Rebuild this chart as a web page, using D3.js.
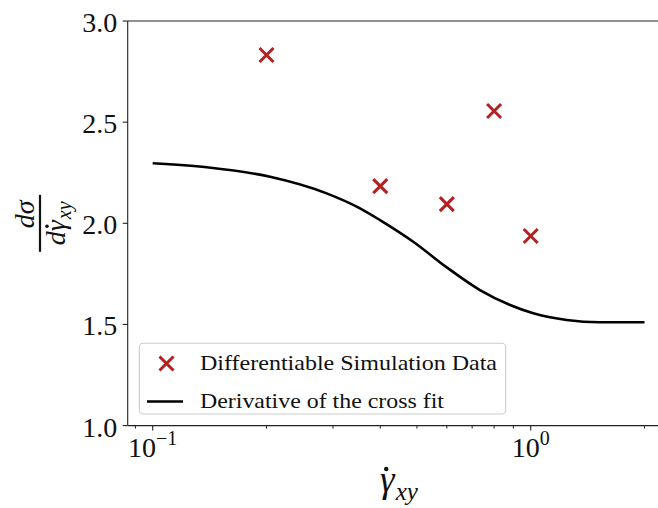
<!DOCTYPE html>
<html><head><meta charset="utf-8">
<script src="https://cdn.jsdelivr.net/npm/d3@7"></script>
<style>body{margin:0;background:#fff}svg{display:block}</style>
</head><body><svg id="c" width="658" height="508"></svg>
<script>
// ---- data ----
const simX = [0.2, 0.4, 0.6, 0.8, 1.0];
const simY = [2.832, 2.184, 2.095, 2.555, 1.937];
const fitX = [0.1, 0.139, 0.2044, 0.2885, 0.3535, 0.3993, 0.489, 0.5997, 0.734, 0.882, 1.016, 1.245, 1.525, 2.0];
const fitY = [2.297, 2.277, 2.230, 2.148, 2.074, 2.016, 1.909, 1.782, 1.670, 1.596, 1.555, 1.522, 1.511, 1.511];
const yTicks = [1.0, 1.5, 2.0, 2.5, 3.0];
const xMajor = [0.1, 1];
const xMajorExp = ["\u22121", "0"];
const xMinor = [0.09, 0.2, 0.3, 0.4, 0.5, 0.6, 0.7, 0.8, 0.9, 2];
const legendLabels = ["Differentiable Simulation Data", "Derivative of the cross fit"];

const FONT = "'Liberation Serif', 'DejaVu Serif', serif";
const RED = "#b22222";
const svg = d3.select("#c");
svg.append("rect").attr("width", 658).attr("height", 508).attr("fill", "#fff");

const L = 127.7, R = 669, T = 21, B = 425.6;
const x = d3.scaleLog().domain([0.08588, 2.322]).range([L, R]);
const y = d3.scaleLinear().domain([1, 3]).range([B, T]);

// ---- spines ----
const ax = svg.append("g").attr("stroke", "#222").attr("stroke-width", 1.1).attr("fill", "none");
ax.append("line").attr("x1", L).attr("x2", L).attr("y1", T).attr("y2", B);
ax.append("line").attr("x1", L).attr("x2", R).attr("y1", B).attr("y2", B);
ax.append("line").attr("x1", L).attr("x2", R).attr("y1", T).attr("y2", T);
ax.append("line").attr("x1", R).attr("x2", R).attr("y1", T).attr("y2", B);

// ---- y axis ticks ----
yTicks.forEach(v => {
  svg.append("line").attr("x1", L - 5).attr("x2", L).attr("y1", y(v)).attr("y2", y(v))
    .attr("stroke", "#222").attr("stroke-width", 1.1);
  svg.append("text").attr("x", L - 10.5).attr("y", y(v) + 11).attr("text-anchor", "end")
    .attr("font-family", FONT).attr("font-size", 28).attr("fill", "#111").text(v.toFixed(1));
});

// ---- x axis ticks ----
xMinor.forEach(v => {
  svg.append("line").attr("x1", x(v)).attr("x2", x(v)).attr("y1", B).attr("y2", B + 3)
    .attr("stroke", "#222").attr("stroke-width", 1);
});
xMajor.forEach((v, i) => {
  svg.append("line").attr("x1", x(v)).attr("x2", x(v)).attr("y1", B).attr("y2", B + 5)
    .attr("stroke", "#222").attr("stroke-width", 1.1);
  const t = svg.append("text").attr("x", x(v)).attr("y", B + 31).attr("text-anchor", "middle")
    .attr("font-family", FONT).attr("font-size", 28).attr("fill", "#111");
  t.append("tspan").text("10");
  t.append("tspan").attr("dy", -12).attr("font-size", 20).text(xMajorExp[i]);
});

// ---- fit curve ----
const fit = fitX.map((d, i) => [d, fitY[i]]);
svg.append("path").datum(fit)
  .attr("d", d3.line().x(d => x(d[0])).y(d => y(d[1])).curve(d3.curveMonotoneX))
  .attr("fill", "none").attr("stroke", "#000").attr("stroke-width", 2.6);

// ---- simulation points (x markers) ----
const xMark = (sel, cx, cy, s) => {
  sel.append("path").attr("d", `M${cx - s},${cy - s}L${cx + s},${cy + s}M${cx - s},${cy + s}L${cx + s},${cy - s}`)
    .attr("stroke", RED).attr("stroke-width", 3).attr("fill", "none");
};
simX.forEach((d, i) => xMark(svg, x(d), y(simY[i]), 7));

// ---- legend ----
const lg = svg.append("g");
lg.append("rect").attr("x", 139.3).attr("y", 343.3).attr("width", 366.4).attr("height", 70.7)
  .attr("rx", 4).attr("fill", "#fff").attr("fill-opacity", 0.8).attr("stroke", "#cccccc").attr("stroke-width", 1.1);
xMark(lg, 166.5, 363.5, 7);
lg.append("line").attr("x1", 147).attr("x2", 183).attr("y1", 401.5).attr("y2", 401.5)
  .attr("stroke", "#000").attr("stroke-width", 2.6);
const legendW = [297, 244];
legendLabels.forEach((s, i) => {
  lg.append("text").attr("x", 200).attr("y", 370 + i * 38).attr("font-family", FONT)
    .attr("font-size", 22).attr("fill", "#111")
    .attr("textLength", legendW[i]).attr("lengthAdjust", "spacingAndGlyphs").text(s);
});

// ---- x label: gamma-dot_xy ----
(function () {
  const cx = 399, base = 492;
  const g = svg.append("g").attr("font-family", FONT).attr("font-style", "italic").attr("fill", "#111");
  const gam = g.append("text").attr("y", base).attr("font-size", 37).text("\u03b3");
  const sub = g.append("text").attr("y", base + 8).attr("font-size", 25).text("xy");
  const gw = gam.node().getComputedTextLength(), sw = sub.node().getComputedTextLength();
  const x0 = cx - (gw + 1 + sw) / 2;
  gam.attr("x", x0);
  sub.attr("x", x0 + gw + 1);
  g.append("circle").attr("cx", x0 + gw * 0.42).attr("cy", base - 23).attr("r", 2.2).attr("fill", "#111");
})();

// ---- y label: d sigma / d gamma-dot_xy ----
(function () {
  const g = svg.append("g").attr("transform", "translate(40,223.3) rotate(-90)")
    .attr("font-family", FONT).attr("font-style", "italic").attr("fill", "#111");
  g.append("line").attr("x1", -28.5).attr("x2", 28.5).attr("y1", 0).attr("y2", 0)
    .attr("stroke", "#111").attr("stroke-width", 2.2);
  g.append("text").attr("x", 9).attr("y", -6).attr("text-anchor", "middle").attr("font-size", 28).text("d\u03c3");
  const base = 25;
  const dg = g.append("text").attr("y", base).attr("font-size", 28).text("d\u03b3");
  const dOnly = g.append("text").attr("y", base).attr("font-size", 28).attr("opacity", 0).text("d");
  const sub = g.append("text").attr("y", base + 6).attr("font-size", 20).text("xy");
  const w1 = dg.node().getComputedTextLength(), w0 = dOnly.node().getComputedTextLength();
  const sw = sub.node().getComputedTextLength();
  const x0 = -(w1 + 1 + sw) / 2;
  dg.attr("x", x0);
  sub.attr("x", x0 + w1 + 1);
  dOnly.remove();
  g.append("circle").attr("cx", x0 + w0 + (w1 - w0) * 0.45).attr("cy", base - 18).attr("r", 1.8).attr("fill", "#111");
})();
</script></body></html>
